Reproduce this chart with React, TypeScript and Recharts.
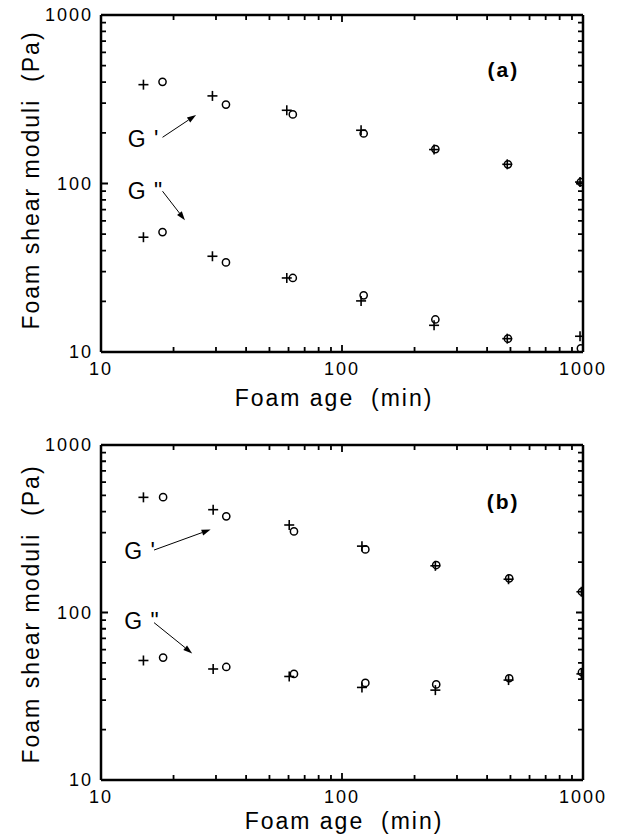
import React from "react";
import {
  ScatterChart,
  Scatter,
  XAxis,
  YAxis,
  ReferenceLine,
  ReferenceDot,
} from "recharts";

const FONT = '"Liberation Sans", Arial, Helvetica, sans-serif';

// log axes: decades get labels, the rest are minor ticks
const LOG_TICKS = [
  10, 20, 30, 40, 50, 60, 70, 80, 90, 100, 200, 300, 400, 500, 600, 700, 800,
  900, 1000,
];
const MAJOR = [10, 100, 1000];

// panel (a)
const ageCrossA = [15, 29, 59, 120, 241, 485, 972];
const ageCircleA = [18, 33, 62.5, 123, 244, 488, 980];
const gPrimeCrossA = [386, 331, 272, 207, 159, 130, 102];
const gPrimeCircleA = [401, 294, 257, 198, 160, 130, 102];
const gDoubleCrossA = [48, 37, 27.5, 20.1, 14.4, 12, 12.4];
const gDoubleCircleA = [51.5, 34, 27.5, 21.7, 15.6, 12, 10.5];

// panel (b)
const ageCrossB = [15, 29.2, 60.4, 121, 244, 491, 985];
const ageCircleB = [18.1, 33.1, 63.2, 125, 246, 494, 990];
const gPrimeCrossB = [487, 411, 333, 249, 190, 158, 133];
const gPrimeCircleB = [488, 375, 305, 238, 192, 160, 133];
const gDoubleCrossB = [51.7, 46, 41.5, 35.7, 34.4, 39.5, 43];
const gDoubleCircleB = [53.8, 47.3, 43, 38, 37.2, 40.5, 44];

const toPoints = (xs: number[], ys: number[]) =>
  xs.map((x, i) => ({ x, y: ys[i] }));

const Cross = (props: any) => {
  const { cx, cy } = props;
  if (cx == null || cy == null) return null;
  return (
    <g stroke="#000" strokeWidth={1.6}>
      <line x1={cx - 5} y1={cy} x2={cx + 5} y2={cy} />
      <line x1={cx} y1={cy - 5} x2={cx} y2={cy + 5} />
    </g>
  );
};

const Ring = (props: any) => {
  const { cx, cy } = props;
  if (cx == null || cy == null) return null;
  return <circle cx={cx} cy={cy} r={3.6} fill="none" stroke="#000" strokeWidth={1.5} />;
};

const Arrow = (props: any) => {
  const { x1, y1, x2, y2 } = props;
  if (x1 == null) return null;
  const ang = Math.atan2(y2 - y1, x2 - x1);
  const bx = x2 - 9 * Math.cos(ang);
  const by = y2 - 9 * Math.sin(ang);
  const px = -Math.sin(ang) * 3;
  const py = Math.cos(ang) * 3;
  return (
    <g>
      <line x1={x1} y1={y1} x2={bx} y2={by} stroke="#000" strokeWidth={1} />
      <polygon
        points={`${x2},${y2} ${bx + px},${by + py} ${bx - px},${by - py}`}
        fill="#000"
      />
    </g>
  );
};

// short inward ticks at both ends of a full-width segment (box frame ticks)
const EdgeTicks = (len: number) => (props: any) => {
  const x1 = Number(props.x1);
  const y1 = Number(props.y1);
  const x2 = Number(props.x2);
  const y2 = Number(props.y2);
  if (!isFinite(x1) || !isFinite(y1)) return <g />;
  if (Math.abs(x1 - x2) < 0.5) {
    const top = Math.min(y1, y2);
    const bot = Math.max(y1, y2);
    return (
      <path d={`M${x1},${bot}V${bot - len}M${x1},${top}V${top + len}`} stroke="#000" strokeWidth={1.8} fill="none" />
    );
  }
  const left = Math.min(x1, x2);
  const right = Math.max(x1, x2);
  return (
    <path d={`M${left},${y1}H${left + len}M${right},${y1}H${right - len}`} stroke="#000" strokeWidth={1.8} fill="none" />
  );
};

const majorTick = EdgeTicks(7);
const minorTick = EdgeTicks(5);

// labels only at decades
const makeLabel = (side: string, labelGap: number) => (props: any) => {
  const { x, y, payload } = props;
  const v = payload.value;
  if (!MAJOR.includes(v)) return <g />;
  if (side === "bottom")
    return (
      <text x={x} y={y + labelGap} textAnchor="middle" fontSize={18} letterSpacing={2} fontFamily={FONT} fill="#000">
        {v}
      </text>
    );
  return (
    <text x={x - 8} y={y} dy="0.35em" textAnchor="end" fontSize={18} letterSpacing={2} fontFamily={FONT} fill="#000">
      {v}
    </text>
  );
};

const frame = { stroke: "#000", strokeWidth: 2.5 };

type Note = { text: string; at: [number, number]; from: [number, number]; to: [number, number] };

const panelA = {
  height: 420,
  top: 15,
  bottomH: 68,
  tickGap: 23,
  xTitleY: 54,
  xTitleX: 334,
  yTitleY: 180,
  tag: "(a)",
  tagAt: [467, 473] as [number, number],
  cross: [toPoints(ageCrossA, gPrimeCrossA), toPoints(ageCrossA, gDoubleCrossA)],
  ring: [toPoints(ageCircleA, gPrimeCircleA), toPoints(ageCircleA, gDoubleCircleA)],
  notes: [
    { text: "G '", at: [12.9, 183], from: [18, 188], to: [24.8, 255] },
    { text: 'G "', at: [12.9, 90], from: [18, 90], to: [22.3, 60.6] },
  ] as Note[],
};

const panelB = {
  height: 419,
  top: 25,
  bottomH: 59,
  tickGap: 23,
  xTitleY: 49,
  xTitleX: 344,
  yTitleY: 194,
  tag: "(b)",
  tagAt: [466, 458] as [number, number],
  cross: [toPoints(ageCrossB, gPrimeCrossB), toPoints(ageCrossB, gDoubleCrossB)],
  ring: [toPoints(ageCircleB, gPrimeCircleB), toPoints(ageCircleB, gDoubleCircleB)],
  notes: [
    { text: "G '", at: [12.5, 232], from: [16.6, 236], to: [28.5, 313] },
    { text: 'G "', at: [12.5, 88.5], from: [16.6, 87], to: [23.9, 57] },
  ] as Note[],
};

const Panel = ({ cfg }: { cfg: typeof panelA }) => {
  return (
    <ScatterChart
      width={620}
      height={cfg.height}
      margin={{ top: cfg.top - 1, right: 36, bottom: 0, left: 0 }}
    >
      <XAxis
        dataKey="x"
        type="number"
        scale="log"
        domain={[10, 1000]}
        allowDataOverflow
        ticks={LOG_TICKS}
        interval={0}
        height={cfg.bottomH}
        tickSize={0}
        tickMargin={0}
        axisLine={frame}
        tickLine={false}
        tick={makeLabel("bottom", cfg.tickGap)}
        label={(p: any) => {
          const vb = p.viewBox || {};
          return (
            <text
              x={cfg.xTitleX}
              y={(vb.y ?? 0) + cfg.xTitleY}
              textAnchor="middle"
              fontSize={23}
              letterSpacing={2}
              fontFamily={FONT}
              fill="#000"
            >
              Foam age{"\u00a0\u00a0"}(min)
            </text>
          );
        }}
      />
      <XAxis
        xAxisId="t"
        orientation="top"
        type="number"
        scale="log"
        domain={[10, 1000]}
        allowDataOverflow
        ticks={[10, 1000]}
        height={1}
        axisLine={frame}
        tickLine={false}
        tick={false}
      />
      <YAxis
        dataKey="y"
        type="number"
        scale="log"
        domain={[10, 1000]}
        allowDataOverflow
        ticks={LOG_TICKS}
        interval={0}
        width={101}
        tickSize={0}
        tickMargin={0}
        axisLine={frame}
        tickLine={false}
        tick={makeLabel("left", 0)}
        label={() => (
          <text
            x={38.5}
            y={cfg.yTitleY}
            transform={`rotate(-90 38.5 ${cfg.yTitleY})`}
            textAnchor="middle"
            fontSize={23}
            letterSpacing={2}
            fontFamily={FONT}
            fill="#000"
          >
            Foam shear moduli{"\u00a0\u00a0"}(Pa)
          </text>
        )}
      />
      <YAxis
        yAxisId="r"
        orientation="right"
        type="number"
        scale="log"
        domain={[10, 1000]}
        allowDataOverflow
        ticks={[10, 1000]}
        width={1}
        axisLine={frame}
        tickLine={false}
        tick={false}
      />
      {LOG_TICKS.map((v) => (
        <ReferenceLine
          key={`vx${v}`}
          ifOverflow="visible"
          segment={[
            { x: v, y: 10 },
            { x: v, y: 1000 },
          ]}
          shape={MAJOR.includes(v) ? majorTick : minorTick}
        />
      ))}
      {LOG_TICKS.map((v) => (
        <ReferenceLine
          key={`vy${v}`}
          ifOverflow="visible"
          segment={[
            { x: 10, y: v },
            { x: 1000, y: v },
          ]}
          shape={MAJOR.includes(v) ? majorTick : minorTick}
        />
      ))}
      {cfg.cross.map((d, i) => (
        <Scatter key={`c${i}`} data={d} shape={Cross} isAnimationActive={false} />
      ))}
      {cfg.ring.map((d, i) => (
        <Scatter key={`o${i}`} data={d} shape={Ring} isAnimationActive={false} />
      ))}
      {cfg.notes.map((n, i) => (
        <ReferenceLine
          key={`a${i}`}
          segment={[
            { x: n.from[0], y: n.from[1] },
            { x: n.to[0], y: n.to[1] },
          ]}
          shape={Arrow}
        />
      ))}
      {cfg.notes.map((n, i) => (
        <ReferenceDot
          key={`t${i}`}
          x={n.at[0]}
          y={n.at[1]}
          r={0}
          shape={(p: any) => (
            <text x={p.cx} y={p.cy} dy="0.35em" fontSize={23} letterSpacing={1} fontFamily={FONT} fill="#000">
              {n.text}
            </text>
          )}
        />
      ))}
      <ReferenceDot
        x={cfg.tagAt[0]}
        y={cfg.tagAt[1]}
        r={0}
        shape={(p: any) => (
          <text x={p.cx} y={p.cy} dy="0.35em" textAnchor="middle" fontSize={21} fontWeight="bold" letterSpacing={2} fontFamily={FONT} fill="#000">
            {cfg.tag}
          </text>
        )}
      />
    </ScatterChart>
  );
};

export default function App() {
  return (
    <div style={{ position: "absolute", left: 0, top: 0, width: 620, height: 839, background: "#fff" }}>
      <Panel cfg={panelA} />
      <Panel cfg={panelB} />
    </div>
  );
}
